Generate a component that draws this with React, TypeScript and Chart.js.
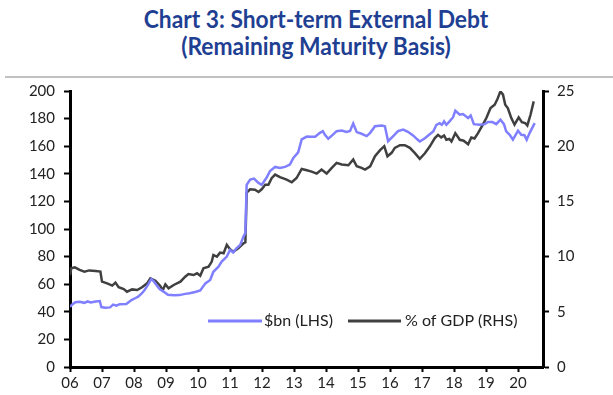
import React, { useEffect, useRef } from 'react';
import { Chart, registerables } from 'chart.js';

Chart.register(...registerables);

const TITLE_LINES = ['Chart 3: Short-term External Debt', '(Remaining Maturity Basis)'];
const SERIES_LABELS = ['$bn (LHS)', '% of GDP (RHS)'];
const SERIES_COLORS = ['#7f7fff', '#404040'];

const YEAR_TICKS = [2006, 2007, 2008, 2009, 2010, 2011, 2012, 2013, 2014, 2015, 2016, 2017, 2018, 2019, 2020];

// $bn (LHS): dates as decimal years
const bnDates = [
  2006.0, 2006.08, 2006.17, 2006.3, 2006.45, 2006.55, 2006.65, 2006.8, 2006.93, 2006.98,
  2007.1, 2007.25, 2007.35, 2007.45, 2007.55, 2007.76, 2007.92, 2008.05, 2008.13, 2008.25,
  2008.33, 2008.45, 2008.54, 2008.62, 2008.7, 2008.8, 2008.9, 2009.06, 2009.25, 2009.42,
  2009.6, 2009.74, 2009.94, 2010.07, 2010.23, 2010.38, 2010.48, 2010.64, 2010.74, 2010.9,
  2011.0, 2011.1, 2011.2, 2011.32, 2011.42, 2011.48, 2011.52, 2011.63, 2011.75, 2011.89,
  2011.99, 2012.15, 2012.25, 2012.41, 2012.56, 2012.72, 2012.87, 2012.98, 2013.13, 2013.24,
  2013.4, 2013.55, 2013.66, 2013.81, 2013.9, 2013.96, 2014.07, 2014.2, 2014.33, 2014.49,
  2014.64, 2014.75, 2014.85, 2014.96, 2015.11, 2015.27, 2015.38, 2015.53, 2015.74, 2015.84,
  2015.94, 2016.1, 2016.25, 2016.41, 2016.56, 2016.72, 2016.85, 2016.93, 2017.09, 2017.24,
  2017.35, 2017.45, 2017.55, 2017.62, 2017.69, 2017.76, 2017.86, 2017.97, 2018.04, 2018.18,
  2018.28, 2018.44, 2018.52, 2018.62, 2018.8, 2018.96, 2019.06, 2019.2, 2019.32, 2019.45,
  2019.56, 2019.63, 2019.74, 2019.84, 2020.0, 2020.1, 2020.2, 2020.27, 2020.36, 2020.52,
];
const bnValues = [
  43.6, 45.5, 47, 47.3, 46.5, 47.5, 46.8, 47.5, 47.8, 43.4,
  43, 43.2, 45.2, 44.5, 45.5, 45.6, 48.5, 50, 51, 53.5,
  55.8, 60, 63.8, 62, 59.4, 56.5, 55, 52.3, 52, 52.1,
  53, 53.4, 54.5, 55.5, 60.6, 63, 69, 72.7, 76.4, 80,
  84.8, 83, 86, 88.5, 94.5, 97, 132, 135.8, 136.5, 133.4,
  132, 137.5, 142, 145, 144.3, 145, 146.7, 151.5, 155.5, 164.9,
  167, 166.8, 166.8, 169.7, 170.9, 168.5, 165.4, 168, 170.9, 171.4,
  170.4, 171, 176.5, 170.2, 169, 167.3, 169.7, 174.5, 175, 174.5,
  163.6, 167.3, 170.9, 172.1, 170.4, 167.8, 165, 163.4, 165.8, 168.7,
  170.7, 175.5, 176.7, 175.5, 178, 175.5, 178, 181, 185.7, 182.8,
  183.3, 180.4, 182.3, 176, 175.5, 176, 177.5, 177.5, 176, 179.2,
  176, 170.7, 168.3, 164.7, 171.2, 168.3, 168, 164.7, 169.5, 176.7,
];

// % of GDP (RHS)
const gdpDates = [
  2006.0, 2006.04, 2006.15, 2006.3, 2006.45, 2006.6, 2006.8, 2006.95, 2007.0, 2007.16,
  2007.32, 2007.42, 2007.52, 2007.68, 2007.78, 2007.94, 2008.1, 2008.25, 2008.41, 2008.51,
  2008.67, 2008.82, 2008.9, 2008.98, 2009.08, 2009.24, 2009.45, 2009.6, 2009.7, 2009.86,
  2009.97, 2010.07, 2010.17, 2010.33, 2010.43, 2010.48, 2010.59, 2010.69, 2010.8, 2010.9,
  2011.0, 2011.1, 2011.26, 2011.42, 2011.48, 2011.52, 2011.63, 2011.78, 2011.89, 2011.99,
  2012.1, 2012.2, 2012.3, 2012.41, 2012.56, 2012.77, 2012.93, 2013.08, 2013.24, 2013.4,
  2013.55, 2013.71, 2013.86, 2014.02, 2014.18, 2014.33, 2014.49, 2014.7, 2014.85, 2014.96,
  2015.11, 2015.22, 2015.38, 2015.53, 2015.69, 2015.82, 2015.92, 2016.05, 2016.15, 2016.31,
  2016.46, 2016.62, 2016.77, 2016.93, 2017.09, 2017.24, 2017.4, 2017.5, 2017.6, 2017.69,
  2017.76, 2017.85, 2017.92, 2018.04, 2018.18, 2018.3, 2018.44, 2018.54, 2018.64, 2018.75,
  2018.9, 2019.01, 2019.14, 2019.27, 2019.35, 2019.45, 2019.53, 2019.6, 2019.68, 2019.79,
  2019.89, 2020.02, 2020.12, 2020.22, 2020.29, 2020.39, 2020.49,
];
const gdpValues = [
  8.3, 8.95, 9.03, 8.79, 8.64, 8.75, 8.7, 8.64, 7.73, 7.58,
  7.37, 7.64, 7.22, 7.06, 6.82, 7.03, 6.97, 7.22, 7.58, 8.03,
  7.82, 7.34, 6.97, 7.49, 7.12, 7.43, 7.73, 8.18, 8.42, 8.33,
  8.49, 8.27, 8.94, 9.09, 9.55, 10.15, 10.0, 10.36, 10.3, 11.06,
  10.67, 10.45, 10.76, 11.2, 11.3, 15.8, 16.1, 16.05, 15.85, 16.1,
  16.5, 16.5, 17.1, 17.43, 17.2, 16.97, 16.73, 17.12, 17.94, 17.82,
  17.7, 17.52, 17.88, 17.52, 18.04, 18.49, 18.34, 18.28, 18.79, 18.18,
  18.04, 17.88, 18.18, 19.09, 19.64, 20.0, 19.09, 19.4, 19.85, 20.09,
  20.09, 19.85, 19.4, 18.85, 19.36, 19.97, 20.73, 21.03, 20.8, 20.97,
  20.58, 20.65, 20.43, 21.18, 20.58, 20.5, 20.18, 20.79, 20.7, 21.18,
  21.95, 22.55, 23.45, 23.76, 24.22, 24.97, 24.67, 23.76, 23.45, 22.55,
  21.95, 22.61, 22.18, 22.1, 21.88, 22.85, 24.06,
];

const TICK_FONT = { family: "Lato, 'Open Sans', sans-serif", size: 15 };
const LEGEND_FONT_SIZE = 16;
const TICK_COLOR = '#222222';

const insideLegend = {
  id: 'insideLegend',
  afterDraw(chart: any) {
    const { ctx } = chart;
    const spots = [
      { x0: 208, x1: 262, tx: 264 },
      { x0: 348, x1: 401, tx: 405 },
    ];
    const y = 321;
    ctx.save();
    chart.data.datasets.forEach((ds: any, i: number) => {
      const s = spots[i];
      ctx.strokeStyle = ds.borderColor;
      ctx.lineWidth = 3;
      ctx.beginPath();
      ctx.moveTo(s.x0, y);
      ctx.lineTo(s.x1, y);
      ctx.stroke();
      ctx.fillStyle = TICK_COLOR;
      ctx.font = `${LEGEND_FONT_SIZE}px ${TICK_FONT.family}`;
      ctx.textAlign = 'left';
      ctx.textBaseline = 'middle';
      ctx.fillText(ds.label, s.tx, y);
    });
    ctx.restore();
  },
};

export default function App() {
  const canvasRef = useRef<HTMLCanvasElement | null>(null);

  useEffect(() => {
    document.body.style.margin = '0';
    const canvas = canvasRef.current;
    if (!canvas) return;
    const chart = new Chart(canvas, {
      type: 'line',
      data: {
        datasets: [
          {
            label: SERIES_LABELS[0],
            data: bnDates.map((d, i) => ({ x: d, y: bnValues[i] })),
            borderColor: SERIES_COLORS[0],
            backgroundColor: SERIES_COLORS[0],
            borderWidth: 2.5,
            pointRadius: 0,
            tension: 0,
            yAxisID: 'y',
          },
          {
            label: SERIES_LABELS[1],
            data: gdpDates.map((d, i) => ({ x: d, y: gdpValues[i] })),
            borderColor: SERIES_COLORS[1],
            backgroundColor: SERIES_COLORS[1],
            borderWidth: 2.5,
            pointRadius: 0,
            tension: 0,
            yAxisID: 'y1',
          },
        ],
      },
      options: {
        responsive: false,
        animation: false,
        devicePixelRatio: 1,
        layout: { padding: { top: 91, left: 0, right: 0, bottom: 0 } },
        plugins: {
          legend: { display: false },
          title: { display: false },
          tooltip: { enabled: false },
        },
        scales: {
          x: {
            type: 'linear',
            min: 2006,
            max: 2020.78,
            afterBuildTicks: (s: any) => {
              s.ticks = YEAR_TICKS.map((v) => ({ value: v }));
            },
            afterFit: (s: any) => {
              s.height = 28;
            },
            ticks: {
              autoSkip: false,
              maxRotation: 0,
              padding: 2,
              font: TICK_FONT,
              color: TICK_COLOR,
              callback: (v: any) => String(v).slice(2),
            },
            grid: { display: true, drawOnChartArea: false, drawTicks: true, tickLength: 5, tickWidth: 2, tickColor: '#000' },
            border: { display: true, color: '#000', width: 3 },
          },
          y: {
            type: 'linear',
            position: 'left',
            min: 0,
            max: 200,
            afterFit: (s: any) => {
              s.width = 70;
            },
            ticks: { stepSize: 20, padding: 9, font: TICK_FONT, color: TICK_COLOR },
            grid: { display: true, drawOnChartArea: false, drawTicks: true, tickLength: 6, tickWidth: 2, tickColor: '#000' },
            border: { display: true, color: '#000', width: 3 },
          },
          y1: {
            type: 'linear',
            position: 'right',
            min: 0,
            max: 25,
            afterFit: (s: any) => {
              s.width = 70;
            },
            ticks: { stepSize: 5, padding: 8, font: TICK_FONT, color: TICK_COLOR },
            grid: { display: true, drawOnChartArea: false, drawTicks: true, tickLength: 6, tickWidth: 2, tickColor: '#000' },
            border: { display: true, color: '#000', width: 3 },
          },
        },
      },
      plugins: [insideLegend],
    } as any);
    return () => chart.destroy();
  }, []);

  return (
    <div style={{ position: 'absolute', left: 0, top: 0, width: 613, height: 395, background: '#fff' }}>
      <div
        style={{
          position: 'absolute',
          left: 0,
          top: 5,
          width: 632,
          textAlign: 'center',
          fontFamily: "Lato, 'Open Sans', sans-serif",
          fontWeight: 'bold',
          fontSize: 24,
          lineHeight: '27px',
          color: '#1f3f93',
          transform: 'scaleX(0.95)',
          transformOrigin: '316px 0',
        }}
      >
        <div>{TITLE_LINES[0]}</div>
        <div>{TITLE_LINES[1]}</div>
      </div>
      <div style={{ position: 'absolute', left: 5, top: 76, width: 608, height: 2, background: '#c0c0c0' }} />
      <canvas ref={canvasRef} width={613} height={395} style={{ position: 'absolute', left: 0, top: 0 }} />
    </div>
  );
}
